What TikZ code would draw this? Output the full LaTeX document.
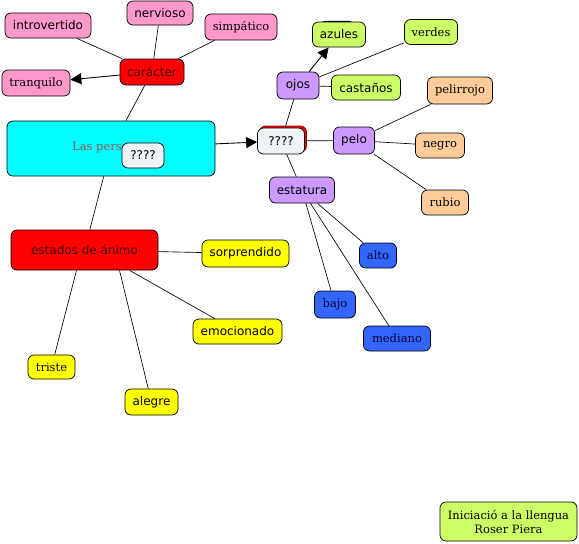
\documentclass[tikz,border=0pt]{standalone}
\usepackage{fontspec}
\usepackage{tikz}
\usetikzlibrary{arrows.meta,positioning}
\newfontfamily\cmsans{DejaVu Sans}
\newfontfamily\cmserif{DejaVu Serif}
\definecolor{pinkc}{HTML}{FF99CC}
\definecolor{redc}{HTML}{FF0000}
\definecolor{cyanc}{HTML}{00FFFF}
\definecolor{lilac}{HTML}{CC99FF}
\definecolor{limec}{HTML}{CCFF66}
\definecolor{peach}{HTML}{FFCC99}
\definecolor{bluec}{HTML}{3366FF}
\definecolor{yellowc}{HTML}{FFFF00}
\definecolor{paleq}{HTML}{EEF3F5}
\definecolor{persc}{HTML}{8C5A5A}

\begin{document}
\begin{tikzpicture}[
    x=1pt, y=-1pt,
    concept/.style={rectangle, draw, rounded corners=6pt, line width=0.7pt, minimum height=25pt, inner sep=0pt, text centered, minimum width=#1},
    concept/.default=50pt,
    sans/.style={font=\cmsans\fontsize{12}{14}\selectfont},
    serif/.style={font=\cmserif\fontsize{11.5}{14}\selectfont},
    link/.style={line width=0.65pt},
    arr/.style={-{Triangle[length=11pt, width=11pt]}, line width=0.9pt}
]
\useasboundingbox (0,0) rectangle (579,544);

% Main concept
\node[concept=208pt, minimum height=55pt, fill=cyanc] (pers) at (111,148.5) {};
\node[serif, text=persc, anchor=west, inner sep=0pt] (perstxt) at (72,148) {Las pers};
\node[concept=42pt, fill=paleq, sans] (q1) at (143,155.5) {????};

% caracter branch
\node[concept=64pt, minimum height=26pt, fill=redc, sans, text=red!25!black] (car) at (152,72) {carácter};
\node[concept=86pt, fill=pinkc, sans] (intro) at (48,25.5) {introvertido};
\node[concept=66pt, minimum height=24pt, fill=pinkc, sans] (nerv) at (160,13) {nervioso};
\node[concept=72pt, minimum height=26pt, fill=pinkc, serif] (simp) at (241,27) {simpático};
\node[concept=68pt, minimum height=26pt, fill=pinkc, serif] (tranq) at (36,83) {tranquilo};

% physical branch
\node[concept=47pt, minimum height=26pt, fill=redc, draw=red!50!black] (q2back) at (283,139) {};
\node[concept=47pt, minimum height=26pt, fill=paleq, sans] (q2) at (281,141) {????};
\node[concept=34pt, fill=black] (azback) at (337,33.6) {};
\node[concept=53pt, fill=limec, sans] (azul) at (339,34.5) {azules};
\node[concept=53pt, fill=limec, serif] (verd) at (431,32) {verdes};
\node[concept=69pt, fill=limec, sans] (cast) at (366,87.5) {castaños};
\node[concept=42pt, minimum height=27pt, fill=lilac, sans] (ojos) at (298,85.5) {ojos};
\node[concept=41pt, minimum height=27pt, fill=lilac, sans] (pelo) at (354,140.5) {pelo};
\node[concept=65pt, minimum height=27pt, fill=peach, serif] (peli) at (460,90.5) {pelirrojo};
\node[concept=49pt, fill=peach, serif] (negr) at (440,145.5) {negro};
\node[concept=47pt, fill=peach, serif] (rubi) at (445,202.5) {rubio};
\node[concept=65pt, minimum height=26pt, fill=lilac, sans] (esta) at (302,190) {estatura};
\node[concept=37pt, fill=bluec, serif, text=blue!20!black] (alto) at (378,255.5) {alto};
\node[concept=41pt, minimum height=27pt, fill=bluec, serif, text=blue!20!black] (bajo) at (335,304.5) {bajo};
\node[concept=67pt, fill=bluec, serif, text=blue!20!black] (medi) at (397,338.5) {mediano};

% mood branch
\node[concept=147pt, minimum height=40pt, fill=redc, sans, text=red!25!black] (animo) at (84.5,250) {estados de ánimo};
\node[concept=87pt, minimum height=27pt, fill=yellowc, sans] (sorp) at (245.5,253.5) {sorprendido};
\node[concept=89pt, fill=yellowc, sans] (emoc) at (237.5,331.5) {emocionado};
\node[concept=47pt, minimum height=24pt, fill=yellowc, serif] (trist) at (51.5,367) {triste};
\node[concept=53pt, minimum height=26pt, fill=yellowc, sans] (aleg) at (151.5,402) {alegre};

% credits
\node[concept=137pt, minimum height=39pt, fill=limec, serif, align=center] (cred) at (508.5,521.5) {Iniciació a la llengua\\Roser Piera};

% links
\draw[link] (intro) -- (car);
\draw[link] (nerv) -- (car);
\draw[link] (simp) -- (car);
\draw[arr] (car) -- (tranq);
\draw[link] (car) -- (pers);
\draw[arr] (pers) -- (q2);
\draw[link] (pers) -- (animo);
\draw[link] (q2) -- (ojos);
\draw[arr] (ojos) -- (azul);
\draw[link] (ojos) -- (verd);
\draw[link] (ojos) -- (cast);
\draw[link] (q2) -- (pelo);
\draw[link] (pelo) -- (peli);
\draw[link] (pelo) -- (negr);
\draw[link] (pelo) -- (rubi);
\draw[link] (q2) -- (esta);
\draw[link] (esta) -- (alto);
\draw[link] (esta) -- (bajo);
\draw[link] (esta) -- (medi);
\draw[link] (animo) -- (sorp);
\draw[link] ([xshift=45pt]animo.south) -- (emoc);
\draw[link] ([xshift=-8pt]animo.south) -- (trist);
\draw[link] ([xshift=35pt]animo.south) -- (aleg);

\end{tikzpicture}
\end{document}
